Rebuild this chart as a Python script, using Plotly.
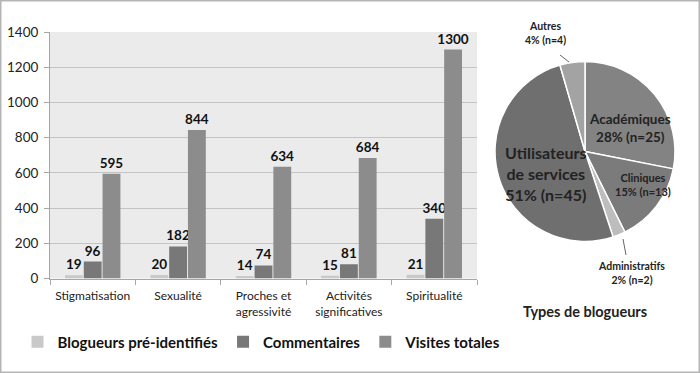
import plotly.graph_objects as go

W, H = 700, 373

categories = ["Stigmatisation", "Sexualité", "Proches et<br>agressivité", "Activités<br>significatives", "Spiritualité"]
blogueurs = [19, 20, 14, 15, 21]
commentaires = [96, 182, 74, 81, 340]
visites = [595, 844, 634, 684, 1300]
y_ticks = [0, 200, 400, 600, 800, 1000, 1200, 1400]

pie_labels = ["Académiques", "Cliniques", "Administratifs", "Utilisateurs de services", "Autres"]
pie_values = [25, 13, 2, 45, 4]
pie_pct = [28, 15, 2, 51, 4]
pie_colors = ["#838383", "#7b7b7b", "#bdbdbd", "#6f6f6f", "#a3a3a3"]

FONT = "Lato, 'Open Sans', sans-serif"

def px(x):
    return x / W

def py(y):
    return 1 - y / H

fig = go.Figure()
series = [("Blogueurs pré-identifiés", blogueurs, "#c9c9c9"),
          ("Commentaires", commentaires, "#787878"),
          ("Visites totales", visites, "#8c8c8c")]
for name, vals, col in series:
    fig.add_trace(go.Bar(
        x=categories, y=vals, name=name, marker=dict(color=col, line=dict(width=0)),
        text=vals, textposition="outside", cliponaxis=False, constraintext="none",
        textfont=dict(family=FONT, size=13.5, color="#111111", weight="bold"),
        xaxis="x", yaxis="y"))

fig.add_trace(go.Pie(
    labels=pie_labels, values=pie_values, sort=False, direction="clockwise", rotation=0,
    marker=dict(colors=pie_colors, line=dict(color="white", width=1.5)),
    textinfo="none", showlegend=False, hoverinfo="label+percent", automargin=False,
    domain=dict(x=[px(495), px(675)], y=[py(242), py(61)])))

annotations = [
    dict(x=px(630), y=py(128), text=f"<b>{pie_labels[0]}<br>{pie_pct[0]}% (n={pie_values[0]})</b>", size=13.5),
    dict(x=px(643), y=py(184), text=f"<b>{pie_labels[1]}<br>{pie_pct[1]}% (n={pie_values[1]})</b>", size=11),
    dict(x=px(631), y=py(273), text=f"<b>{pie_labels[2]}<br>{pie_pct[2]}% (n={pie_values[2]})</b>", size=10.5),
    dict(x=px(546), y=py(173), text=f"<b>Utilisateurs<br>de services<br>{pie_pct[3]}% (n={pie_values[3]})</b>", size=16),
    dict(x=px(545), y=py(33), text=f"<b>{pie_labels[4]}<br>{pie_pct[4]}% (n={pie_values[4]})</b>", size=10.5),
    dict(x=px(585), y=py(311), text="<b>Types de blogueurs</b>", size=14.5),
]
ann = []
for a in annotations:
    ann.append(dict(x=a["x"], y=a["y"], xref="paper", yref="paper", text=a["text"],
                    showarrow=False, xanchor="center", yanchor="middle",
                    font=dict(family=FONT, size=a["size"], color="#222222")))

shapes = [
    dict(type="rect", xref="paper", yref="paper", x0=0, y0=0, x1=1, y1=1,
         line=dict(color="#b5b5b5", width=3), fillcolor="rgba(0,0,0,0)"),
    dict(type="line", xref="paper", yref="paper", x0=px(560), y0=py(55), x1=px(569), y1=py(62),
         line=dict(color="#666666", width=1)),
    dict(type="line", xref="paper", yref="paper", x0=px(623), y0=py(239), x1=px(626), y1=py(255),
         line=dict(color="#666666", width=1)),
]

fig.update_layout(
    width=W, height=H, margin=dict(l=0, r=0, t=0, b=0, autoexpand=False),
    paper_bgcolor="white", plot_bgcolor="#ebebeb",
    barmode="group", bargap=0.34, bargroupgap=0.05,
    font=dict(family=FONT, color="#222222"),
    xaxis=dict(domain=[px(50), px(477)], anchor="y", showgrid=False, automargin=False,
               showline=True, linecolor="#a6a6a6", ticks="outside", tickson="boundaries",
               ticklen=5, tickcolor="#a6a6a6", ticklabelstandoff=6,
               tickfont=dict(family=FONT, size=12, color="#222222")),
    yaxis=dict(domain=[py(278.5), py(32)], anchor="x", range=[0, 1400], tickvals=y_ticks,
               automargin=False, ticklabelstandoff=3,
               showgrid=True, gridcolor="#c4c4c4", gridwidth=1, zeroline=False,
               showline=True, linecolor="#a6a6a6", ticks="outside", ticklen=5,
               tickcolor="#a6a6a6", tickfont=dict(family=FONT, size=13.5, color="#222222")),
    legend=dict(orientation="h", x=px(262), y=py(342), xanchor="center", yanchor="middle",
                font=dict(family=FONT, size=15, color="#111111", weight="bold"),
                itemwidth=30, tracegroupgap=0, bgcolor="rgba(0,0,0,0)"),
    annotations=ann, shapes=shapes,
)

fig.write_html("out.html", config={"displayModeBar": False},
               post_script="document.body.style.margin='0';document.body.style.padding='0';document.body.style.overflow='hidden';")
